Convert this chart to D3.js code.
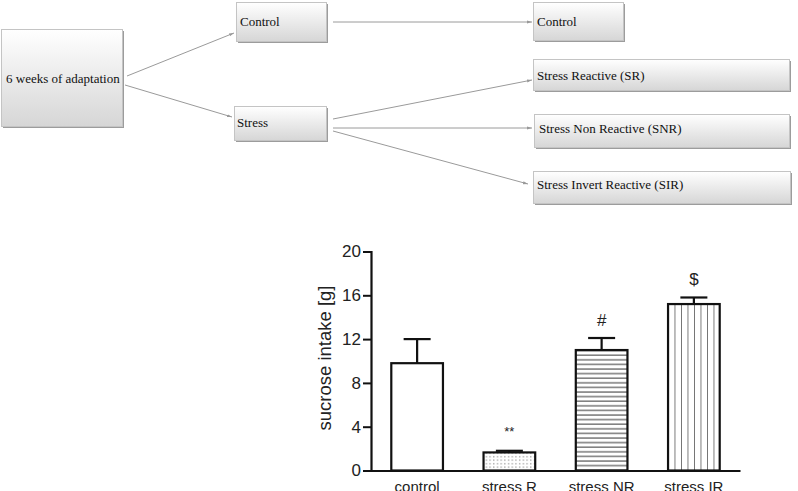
<!DOCTYPE html>
<html>
<head>
<meta charset="utf-8">
<script src="https://cdn.jsdelivr.net/npm/d3@7"></script>
<style>
  body { margin: 0; background: #fff; }
  svg { display: block; }
  .box-label { font-family: "Liberation Serif", "Times New Roman", serif; font-size: 13px; fill: #111; }
  .axis text { font-family: "Liberation Sans", Arial, sans-serif; }
</style>
</head>
<body>
<div id="chart"></div>
<script>
// ===== Daten =====
const categories = ['control', 'stress R', 'stress NR', 'stress IR'];
const means = [9.8, 1.65, 11.0, 15.2];
const sems = [2.2, 0.15, 1.1, 0.6];
const marks = ['', '**', '#', '$'];
const yTicks = [0, 4, 8, 12, 16, 20];

// Schema oben
const boxLabels = ['6 weeks of adaptation', 'Control', 'Stress', 'Control',
  'Stress Reactive (SR)', 'Stress Non Reactive (SNR)', 'Stress Invert Reactive (SIR)'];
const arrows = [[0, 1], [0, 2], [1, 3], [2, 4], [2, 5], [2, 6]];

const W = 798, H = 491;
const svg = d3.select('#chart').append('svg').attr('width', W).attr('height', H);
const defs = svg.append('defs');

// ===== Flussdiagramm =====
const grad = defs.append('linearGradient').attr('id', 'boxgrad')
  .attr('x1', 0).attr('y1', 0).attr('x2', 0).attr('y2', 1);
grad.append('stop').attr('offset', '0%').attr('stop-color', '#ffffff');
grad.append('stop').attr('offset', '100%').attr('stop-color', '#d6d6d6');

defs.append('marker').attr('id', 'arrowhead')
  .attr('viewBox', '0 0 10 10').attr('refX', 10).attr('refY', 5)
  .attr('markerWidth', 5).attr('markerHeight', 5).attr('orient', 'auto')
  .append('path').attr('d', 'M0,2 L10,5 L0,8 Z').attr('fill', '#999');

// Layout der Kästen: x, y, Breite, Höhe, Text-Position, Pfeil-Anker
const layout = [
  { x: 1, y: 29, w: 121, h: 97, tx: 6, ty: 83, out: [[127, 76], [125, 85]] },
  { x: 236, y: 2, w: 90, h: 39, tx: 240, ty: 26, inn: [234, 33], out: [[333, 22]] },
  { x: 234, y: 106, w: 92, h: 34, tx: 237, ty: 127, inn: [232, 117], out: [[333, 119], [333, 128], [333, 131]] },
  { x: 533, y: 2, w: 90, h: 38, tx: 537, ty: 26, inn: [532, 22] },
  { x: 533, y: 59, w: 256, h: 31, tx: 537, ty: 80, inn: [532, 80] },
  { x: 534, y: 114, w: 255, h: 33, tx: 539, ty: 133, inn: [532, 128] },
  { x: 533, y: 171, w: 257, h: 32, tx: 537, ty: 189, inn: [528, 184] }
];

const diag = svg.append('g');
const outIdx = {};
diag.selectAll('line.arrow')
  .data(arrows)
  .enter().append('line')
  .attr('class', 'arrow')
  .attr('stroke', '#9a9a9a')
  .attr('stroke-width', 1)
  .attr('marker-end', 'url(#arrowhead)')
  .each(function(d) {
    const k = outIdx[d[0]] || 0;
    outIdx[d[0]] = k + 1;
    const s = layout[d[0]].out[k], t = layout[d[1]].inn;
    d3.select(this).attr('x1', s[0]).attr('y1', s[1]).attr('x2', t[0]).attr('y2', t[1]);
  });

const boxes = diag.selectAll('g.box')
  .data(boxLabels)
  .enter().append('g').attr('class', 'box');

// Schatten
boxes.append('rect')
  .attr('x', (d, i) => layout[i].x + 2)
  .attr('y', (d, i) => layout[i].y + 2)
  .attr('width', (d, i) => layout[i].w)
  .attr('height', (d, i) => layout[i].h)
  .attr('fill', '#9c9c9c');

boxes.append('rect')
  .attr('x', (d, i) => layout[i].x + 0.5)
  .attr('y', (d, i) => layout[i].y + 0.5)
  .attr('width', (d, i) => layout[i].w)
  .attr('height', (d, i) => layout[i].h)
  .attr('fill', 'url(#boxgrad)')
  .attr('stroke', '#c4c4c4')
  .attr('stroke-width', 1);

boxes.append('text')
  .attr('class', 'box-label')
  .attr('x', (d, i) => layout[i].tx)
  .attr('y', (d, i) => layout[i].ty)
  .text(d => d);

// ===== Balkendiagramm =====
// Muster
const pDots = defs.append('pattern').attr('id', 'dots').attr('patternUnits', 'userSpaceOnUse')
  .attr('width', 3.7).attr('height', 3.5);
pDots.append('rect').attr('x', 1.2).attr('y', 1.2).attr('width', 1).attr('height', 1).attr('fill', '#555');

const pH = defs.append('pattern').attr('id', 'hlines').attr('patternUnits', 'userSpaceOnUse')
  .attr('width', 10).attr('height', 4.6);
pH.append('line').attr('x1', 0).attr('x2', 10).attr('y1', 1).attr('y2', 1)
  .attr('stroke', '#333').attr('stroke-width', 1);

const pV = defs.append('pattern').attr('id', 'vlines').attr('patternUnits', 'userSpaceOnUse')
  .attr('width', 6.5).attr('height', 10).attr('x', 668);
pV.append('line').attr('x1', 0).attr('x2', 0).attr('y1', 0).attr('y2', 10)
  .attr('stroke', '#222').attr('stroke-width', 1.2);

const fills = ['#fff', 'url(#dots)', 'url(#hlines)', 'url(#vlines)'];

const x = d3.scaleBand().domain(categories).range([371, 740]).paddingInner(0.44).paddingOuter(0.22);
const y = d3.scaleLinear().domain([0, 20]).range([470.5, 251.5]);

const chart = svg.append('g');

// Fehlerbalken
const err = chart.append('g').selectAll('g')
  .data(categories)
  .enter().append('g');
err.append('line')
  .attr('x1', d => x(d) + x.bandwidth() / 2)
  .attr('x2', d => x(d) + x.bandwidth() / 2)
  .attr('y1', (d, i) => y(means[i]))
  .attr('y2', (d, i) => y(means[i] + sems[i]))
  .attr('stroke', '#111').attr('stroke-width', 2.2);
err.append('line')
  .attr('x1', d => x(d) + x.bandwidth() / 2 - 13.5)
  .attr('x2', d => x(d) + x.bandwidth() / 2 + 13.5)
  .attr('y1', (d, i) => y(means[i] + sems[i]))
  .attr('y2', (d, i) => y(means[i] + sems[i]))
  .attr('stroke', '#111').attr('stroke-width', 2.2);

// Balken
chart.append('g').selectAll('rect')
  .data(categories)
  .enter().append('rect')
  .attr('x', d => x(d))
  .attr('width', x.bandwidth())
  .attr('y', (d, i) => y(means[i]))
  .attr('height', (d, i) => y(0) - y(means[i]))
  .attr('fill', (d, i) => fills[i])
  .attr('stroke', '#111')
  .attr('stroke-width', 2.2);

// Signifikanzzeichen
chart.append('g').selectAll('text')
  .data(categories)
  .enter().append('text')
  .attr('x', d => x(d) + x.bandwidth() / 2)
  .attr('y', (d, i) => y(means[i] + sems[i]) - (i === 1 ? 15 : 12))
  .attr('text-anchor', 'middle')
  .attr('font-family', 'Liberation Sans, Arial, sans-serif')
  .attr('font-size', (d, i) => i === 1 ? 13 : 17)
  .attr('fill', '#222')
  .text((d, i) => marks[i]);

// Achsen
const yAxis = chart.append('g').attr('class', 'axis')
  .attr('transform', 'translate(371,0)')
  .call(d3.axisLeft(y).tickValues(yTicks).tickSize(8).tickPadding(2));
yAxis.select('.domain').attr('stroke', '#111').attr('stroke-width', 2.2);
yAxis.selectAll('.tick line').attr('stroke', '#111').attr('stroke-width', 2);
yAxis.selectAll('.tick text').attr('font-size', 17).attr('fill', '#222');

const xAxis = chart.append('g').attr('class', 'axis')
  .attr('transform', `translate(0,${y(0)})`)
  .call(d3.axisBottom(x).tickSize(0).tickPadding(11));
xAxis.select('.domain').attr('stroke', '#111').attr('stroke-width', 2.2);
xAxis.selectAll('.tick text').attr('font-size', 15).attr('fill', '#222').attr('dy', '0.72em');

chart.append('text')
  .attr('transform', 'translate(331,358) rotate(-90)')
  .attr('text-anchor', 'middle')
  .attr('font-family', 'Liberation Sans, Arial, sans-serif')
  .attr('font-size', 18.5)
  .attr('fill', '#222')
  .text('sucrose intake [g]');
</script>
</body>
</html>
